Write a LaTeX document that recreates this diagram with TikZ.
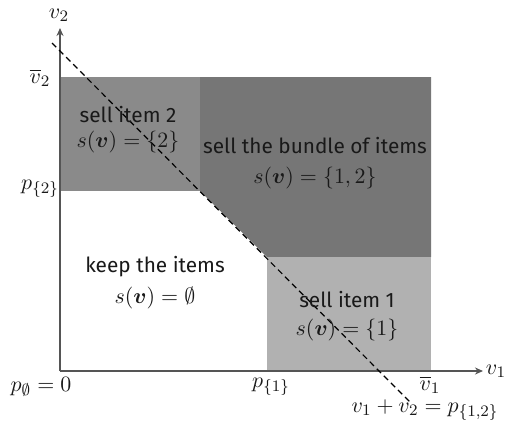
\documentclass[tikz,border=0pt]{standalone}
\usepackage{amsmath,amssymb,bm}
\usepackage{fontspec}
\setsansfont{Fira Sans}
\usetikzlibrary{arrows.meta}
\definecolor{regtwo}{RGB}{138,138,138}
\definecolor{regbundle}{RGB}{118,118,118}
\definecolor{regone}{RGB}{177,177,177}
\definecolor{axisgray}{RGB}{85,85,85}
\tikzset{
  axisline/.style={draw=axisgray, line width=1.1pt, -{Stealth[length=4pt,width=3.5pt]}},
  txt/.style={font=\fontsize{10.4}{12}\selectfont\sffamily, inner sep=0pt, text=black!90},
  mth/.style={font=\fontsize{11}{13}\selectfont, inner sep=0pt, text=black!90},
  budget/.style={line width=0.6pt, dash pattern=on 3pt off 2pt}
}
\begin{document}
\begin{tikzpicture}[x=0.5pt,y=-0.5pt]
\useasboundingbox (0,0) rectangle (508,425);
% regions
\fill[regtwo] (60,77) rectangle (200,191);
\fill[regbundle] (200,77) -- (431,77) -- (431,257) -- (267,257) -- (200,191) -- cycle;
\fill[regone] (267,257) rectangle (431,371);
% axes
\coordinate (O) at (60,371);
\coordinate (xend) at (483,371);
\coordinate (yend) at (60,28);
\draw[axisline] (O) -- (xend);
\draw[axisline] (O) -- (yend);
% dashed budget line
\coordinate (bs) at (52,43);
\coordinate (be) at (410,402);
\draw[budget] (bs) -- (be);
% axis labels
\node[mth] (v2lab) at (59,15) {$v_2$};
\node[mth] (v1lab) at (496,371) {$v_1$};
\node[mth] (v2bar) at (40,78) {$\overline{v}_2$};
\node[mth] (p2lab) at (40,189) {$p_{\{2\}}$};
\node[mth] (p0lab) at (41,387) {$p_{\emptyset}=0$};
\node[mth] (p1lab) at (271,387) {$p_{\{1\}}$};
\node[mth] (v1bar) at (430,385) {$\overline{v}_1$};
\node[mth] (budlab) at (425,410) {$v_1+v_2=p_{\{1,2\}}$};
% region labels
\node[txt] (t2) at (128,115) {sell item 2};
\node[mth] (m2) at (128,142) {$s(\bm{v})=\{2\}$};
\node[txt] (tb) at (315,146) {sell the bundle of items};
\node[mth] (mb) at (315,178) {$s(\bm{v})=\{1,2\}$};
\node[txt] (tk) at (155,267) {keep the items};
\node[mth] (mk) at (155,298) {$s(\bm{v})=\emptyset$};
\node[txt] (t1) at (347,299) {sell item 1};
\node[mth] (m1) at (347,330) {$s(\bm{v})=\{1\}$};
\end{tikzpicture}
\end{document}
